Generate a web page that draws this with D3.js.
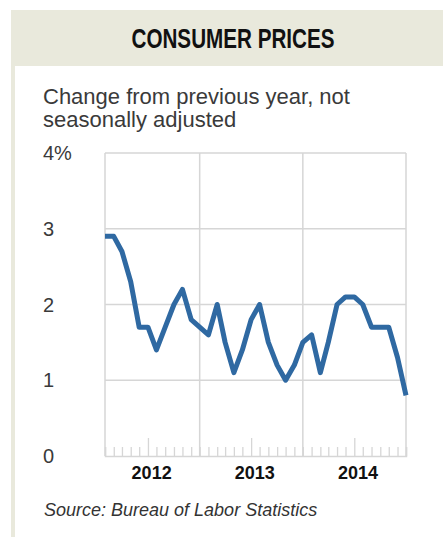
<!DOCTYPE html>
<html lang="en">
<head>
<meta charset="utf-8">
<title>Consumer prices</title>
<script src="https://d3js.org/d3.v7.min.js"></script>
<style>
	body {
		margin: 0;
		background: #fff;
		font-family: "Liberation Sans", Arial, Helvetica, sans-serif;
	}
	svg { display: block; }
</style>
</head>
<body>
<script>
	// CPI, change from previous year (%), monthly Jan 2012 - Dec 2014
	var months = d3.timeMonths(new Date(2012, 0, 1), new Date(2015, 0, 1));
	var cpiValues = [2.9, 2.9, 2.7, 2.3, 1.7, 1.7, 1.4, 1.7, 2.0, 2.2, 1.8, 1.7,
		1.6, 2.0, 1.5, 1.1, 1.4, 1.8, 2.0, 1.5, 1.2, 1.0, 1.2, 1.5,
		1.6, 1.1, 1.5, 2.0, 2.1, 2.1, 2.0, 1.7, 1.7, 1.7, 1.3, 0.8];
	var yTicks = [0, 1, 2, 3, 4];
	var yTickLabels = ["0", "1", "2", "3", "4%"];
	var years = [2012, 2013, 2014];

	var dataset = months.map(function (m, i) {
		return { date: m, value: cpiValues[i] };
	});

	var w = 443, h = 537;
	// plot box (note: "top" is taken by window.top)
	var pLeft = 105, pRight = 406, pTop = 153, pBottom = 456;

	var xScale = d3.scaleTime()
		.domain([months[0], months[months.length - 1]])
		.range([pLeft, pRight]);
	var yScale = d3.scaleLinear().domain([0, 4]).range([pBottom, pTop]);

	var svg = d3.select("body").append("svg")
		.attr("width", w)
		.attr("height", h);

	// header band and left border
	svg.append("rect")
		.attr("x", 11).attr("y", 10)
		.attr("width", w - 11).attr("height", 56)
		.attr("fill", "#e9e9dc");
	svg.append("rect")
		.attr("x", 11).attr("y", 10)
		.attr("width", 4).attr("height", h - 10)
		.attr("fill", "#e9e9dc");

	svg.append("text")
		.attr("x", 233).attr("y", 48)
		.attr("text-anchor", "middle")
		.attr("font-size", 28)
		.attr("font-weight", "bold")
		.attr("textLength", 203)
		.attr("lengthAdjust", "spacingAndGlyphs")
		.attr("fill", "#111")
		.text("CONSUMER PRICES");

	var sub = svg.append("text")
		.attr("font-size", 22)
		.attr("fill", "#3a3a3a");
	sub.append("tspan").attr("x", 43).attr("y", 104).text("Change from previous year, not");
	sub.append("tspan").attr("x", 43).attr("y", 127).text("seasonally adjusted");

	// horizontal gridlines
	svg.append("g").selectAll("line")
		.data(yTicks.slice(1))
		.enter().append("line")
		.attr("x1", pLeft).attr("x2", pRight)
		.attr("y1", function (d) { return yScale(d); })
		.attr("y2", function (d) { return yScale(d); })
		.attr("stroke", "#d6d6d6")
		.attr("stroke-width", 1.5);

	// vertical gridlines: frame edges and each December
	var vLines = [months[0]].concat(months.filter(function (m) { return m.getMonth() === 11; }));
	svg.append("g").selectAll("line")
		.data(vLines)
		.enter().append("line")
		.attr("x1", function (d) { return xScale(d); })
		.attr("x2", function (d) { return xScale(d); })
		.attr("y1", pTop).attr("y2", pBottom)
		.attr("stroke", "#d6d6d6")
		.attr("stroke-width", 1.5);

	// month ticks along the bottom
	var xAxis = d3.axisBottom(xScale)
		.tickValues(months)
		.tickSize(-9)
		.tickFormat("");
	var axisG = svg.append("g")
		.attr("transform", "translate(0," + pBottom + ")")
		.call(xAxis);
	axisG.select(".domain")
		.attr("stroke", "#d6d6d6")
		.attr("stroke-width", 1.5);
	axisG.selectAll(".tick line")
		.attr("stroke", "#d6d6d6")
		.attr("stroke-width", 1.3)
		.attr("y2", function (d) { return d.getMonth() === 5 ? -18 : -9; });

	svg.append("g").selectAll("text")
		.data(years)
		.enter().append("text")
		.attr("x", function (d) { return xScale(new Date(d, 5, 14)); })
		.attr("y", 479)
		.attr("text-anchor", "middle")
		.attr("font-size", 18)
		.attr("font-weight", "bold")
		.attr("fill", "#111")
		.text(function (d) { return d; });

	// y labels
	svg.append("g").selectAll("text")
		.data(yTicks)
		.enter().append("text")
		.attr("x", 43)
		.attr("y", function (d) { return yScale(d); })
		.attr("dy", "0.36em")
		.attr("font-size", 20)
		.attr("fill", "#3a3a3a")
		.text(function (d, i) { return yTickLabels[i]; });

	var line = d3.line()
		.x(function (d) { return xScale(d.date); })
		.y(function (d) { return yScale(d.value); });

	svg.append("path")
		.datum(dataset)
		.attr("d", line)
		.attr("fill", "none")
		.attr("stroke", "#2f69a2")
		.attr("stroke-width", 5)
		.attr("stroke-linejoin", "round");

	svg.append("text")
		.attr("x", 44).attr("y", 516)
		.attr("font-size", 18)
		.attr("font-style", "italic")
		.attr("fill", "#333")
		.text("Source: Bureau of Labor Statistics");
</script>
</body>
</html>
